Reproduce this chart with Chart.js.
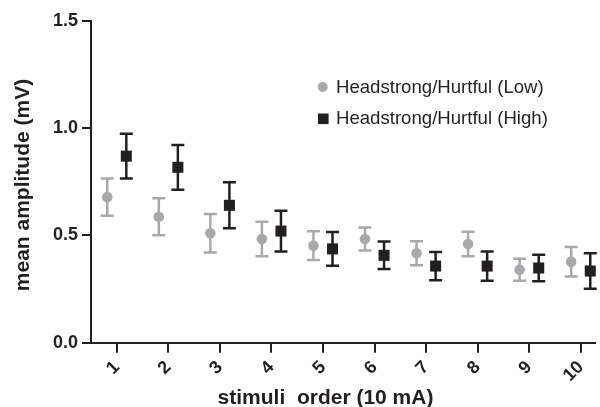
<!DOCTYPE html>
<html>
<head>
<meta charset="utf-8">
<script src="https://cdn.jsdelivr.net/npm/chart.js@4"></script>
<style>
  html, body { margin: 0; padding: 0; background: #fff; }
  #wrap { width: 600px; height: 407px; }
</style>
</head>
<body>
<div id="wrap"><canvas id="chart1"></canvas></div>
<script>
// stimulus order 1..10
var labels = [1, 2, 3, 4, 5, 6, 7, 8, 9, 10];

// Headstrong/Hurtful (Low): mean and error (mV)
var lowMean = [0.678, 0.587, 0.510, 0.483, 0.452, 0.483, 0.417, 0.460, 0.340, 0.377];
var lowErr  = [0.087, 0.086, 0.090, 0.080, 0.067, 0.054, 0.056, 0.057, 0.051, 0.069];

// Headstrong/Hurtful (High): mean and error (mV)
var highMean = [0.869, 0.817, 0.640, 0.520, 0.437, 0.407, 0.357, 0.357, 0.348, 0.334];
var highErr  = [0.104, 0.104, 0.107, 0.095, 0.079, 0.064, 0.066, 0.068, 0.062, 0.083];

var yTicks = [0, 0.5, 1.0, 1.5];

var GREY = '#a7a9ac';
var DARK = '#231f20';
var FONT = '"Liberation Sans", Arial, Helvetica, sans-serif';
var SHIFT = 0.185; // side-by-side offset of the two groups

function points(means, shift) {
  return means.map(function (m, i) {
    return { x: labels[i] + shift, y: m };
  });
}

// error bars drawn under the markers
var errorBars = {
  id: 'errorBars',
  beforeDatasetsDraw: function (chart) {
    var ctx = chart.ctx;
    var y = chart.scales.y;
    chart.data.datasets.forEach(function (ds, i) {
      var meta = chart.getDatasetMeta(i);
      ctx.save();
      ctx.strokeStyle = ds.backgroundColor;
      ctx.lineWidth = 2.5;
      meta.data.forEach(function (el, j) {
        var m = ds.data[j].y, e = ds.err[j];
        var top = y.getPixelForValue(m + e);
        var bot = y.getPixelForValue(m - e);
        ctx.beginPath();
        ctx.moveTo(el.x, top); ctx.lineTo(el.x, bot);
        ctx.moveTo(el.x - 6.5, top); ctx.lineTo(el.x + 6.5, top);
        ctx.moveTo(el.x - 6.5, bot); ctx.lineTo(el.x + 6.5, bot);
        ctx.stroke();
      });
      ctx.restore();
    });
  }
};

// legend inside the plot + axis titles
var decorations = {
  id: 'decorations',
  afterDraw: function (chart) {
    var ctx = chart.ctx;
    ctx.save();
    var rows = [87, 118.8];
    chart.data.datasets.forEach(function (ds, i) {
      var cy = rows[i];
      ctx.fillStyle = ds.backgroundColor;
      if (ds.pointStyle === 'rect') {
        ctx.fillRect(323.3 - 5.3, cy - 5.3, 10.6, 10.6);
      } else {
        ctx.beginPath();
        ctx.arc(322.7, cy, 5, 0, Math.PI * 2);
        ctx.fill();
      }
      ctx.fillStyle = DARK;
      ctx.font = '18.6px ' + FONT;
      ctx.textAlign = 'left';
      ctx.textBaseline = 'middle';
      ctx.fillText(ds.label, 336, cy + 0.5);
    });

    ctx.font = 'bold 21px ' + FONT;
    ctx.fillStyle = DARK;
    ctx.textAlign = 'center';
    ctx.textBaseline = 'alphabetic';
    ctx.fillText('stimuli  order (10 mA)', 325.5, 404);

    ctx.translate(28.6, 185);
    ctx.rotate(-Math.PI / 2);
    ctx.fillText('mean amplitude (mV)', 0, 0);
    ctx.restore();
  }
};

var ctx = document.getElementById('chart1').getContext('2d');
var chart = new Chart(ctx, {
  type: 'scatter',
  data: {
    datasets: [{
      label: 'Headstrong/Hurtful (Low)',
      data: points(lowMean, -SHIFT),
      err: lowErr,
      backgroundColor: GREY,
      borderColor: GREY,
      pointStyle: 'circle',
      pointRadius: 5.3,
      pointHoverRadius: 5.3,
      borderWidth: 0,
      clip: false
    }, {
      label: 'Headstrong/Hurtful (High)',
      data: points(highMean, SHIFT),
      err: highErr,
      backgroundColor: DARK,
      borderColor: DARK,
      pointStyle: 'rect',
      pointRadius: 7.8,
      pointHoverRadius: 7.8,
      borderWidth: 0,
      clip: false
    }]
  },
  options: {
    responsive: true,
    maintainAspectRatio: false,
    animation: false,
    events: [],
    layout: { padding: { top: 20.7, left: 0, right: 0, bottom: 0 }, autoPadding: false },
    plugins: { legend: { display: false }, tooltip: { enabled: false } },
    scales: {
      x: {
        type: 'linear',
        min: 0.5,
        max: 10.275,
        afterFit: function (s) { s.height = 64.3; },
        afterBuildTicks: function (s) { s.ticks = labels.map(function (v) { return { value: v }; }); },
        border: { display: true, color: DARK, width: 2 },
        grid: { display: true, drawOnChartArea: false, drawTicks: true, tickLength: 10, color: DARK, lineWidth: 2 },
        ticks: {
          color: DARK,
          font: { family: FONT, size: 18, weight: 'bold' },
          minRotation: 45,
          maxRotation: 45,
          padding: 4,
          callback: function (v) { return String(v); }
        }
      },
      y: {
        min: 0,
        max: 1.5,
        afterFit: function (s) { s.width = 91; },
        afterBuildTicks: function (s) { s.ticks = yTicks.map(function (v) { return { value: v }; }); },
        border: { display: true, color: DARK, width: 2 },
        grid: { display: true, drawOnChartArea: false, drawTicks: true, tickLength: 9, color: DARK, lineWidth: 2 },
        ticks: {
          color: DARK,
          font: { family: FONT, size: 18, weight: 'bold' },
          padding: 4,
          callback: function (v) { return v.toFixed(1); }
        }
      }
    }
  },
  plugins: [errorBars, decorations]
});
</script>
</body>
</html>
